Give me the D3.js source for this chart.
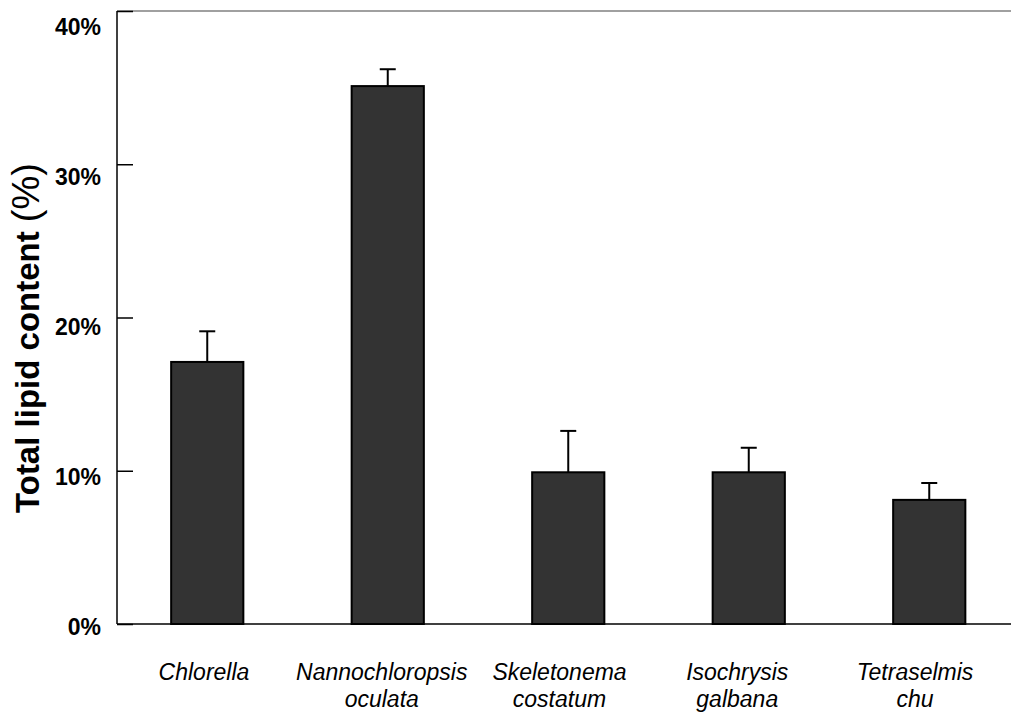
<!DOCTYPE html>
<html>
<head>
<meta charset="utf-8">
<script src="https://cdn.jsdelivr.net/npm/d3@7"></script>
<style>
  html, body { margin: 0; padding: 0; background: #fff; }
  svg { display: block; }
  text { font-family: Arial, "Liberation Sans", sans-serif; }
</style>
</head>
<body>
<svg id="chart" width="1011" height="713"></svg>
<script>
// Total lipid content of five microalgae species (mean and standard deviation, %)
const speciesLine1 = ["Chlorella", "Nannochloropsis", "Skeletonema", "Isochrysis", "Tetraselmis"];
const speciesLine2 = ["", "oculata", "costatum", "galbana", "chu"];
const lipidMean = [17.1, 35.1, 9.9, 9.9, 8.1];
const lipidSd = [2.0, 1.1, 2.7, 1.6, 1.1];
const yTicks = [0, 10, 20, 30, 40];

const svg = d3.select("#chart");
const W = 1011;

const categories = speciesLine1.map((d, i) => i);

const y = d3.scaleLinear().domain([0, 40]).range([624, 11]);
const x = d3.scaleBand().domain(categories).range([117, 1019.5])
  .paddingInner(0.6).paddingOuter(0.3);
// category label placement along the bottom
const xLabel = d3.scalePoint().domain(categories).range([204, 915]);
// tick label placement along the left
const yLabel = d3.scaleLinear().domain([0, 40]).range([627, 27]);

// top frame line
svg.append("line")
  .attr("x1", 117).attr("x2", W)
  .attr("y1", y(40)).attr("y2", y(40))
  .attr("stroke", "#808080").attr("stroke-width", 1.5);

// bars
svg.append("g").selectAll("rect")
  .data(lipidMean)
  .join("rect")
  .attr("x", (d, i) => x(i))
  .attr("y", d => y(d))
  .attr("width", x.bandwidth())
  .attr("height", d => y(0) - y(d))
  .attr("fill", "#333333")
  .attr("stroke", "#000")
  .attr("stroke-width", 2);

// error bars (upper only)
const err = svg.append("g").attr("stroke", "#000").attr("stroke-width", 2);
lipidMean.forEach((m, i) => {
  const cx = x(i) + x.bandwidth() / 2;
  err.append("line")
    .attr("x1", cx).attr("x2", cx)
    .attr("y1", y(m)).attr("y2", y(m + lipidSd[i]));
  err.append("line")
    .attr("x1", cx - 8).attr("x2", cx + 8)
    .attr("y1", y(m + lipidSd[i])).attr("y2", y(m + lipidSd[i]));
});

// y axis line with inward ticks
const yAxis = svg.append("g")
  .attr("transform", "translate(117,0)")
  .call(d3.axisRight(y).tickValues(yTicks).tickSize(16).tickFormat(""));
yAxis.select(".domain").attr("stroke", "#000").attr("stroke-width", 1.5)
  .attr("d", `M0,${y(40)}V${y(0)}`);
yAxis.selectAll(".tick line").attr("stroke", "#000").attr("stroke-width", 1.5);

// y tick labels
svg.append("g").selectAll("text")
  .data(yTicks)
  .join("text")
  .attr("x", 101)
  .attr("y", d => yLabel(d))
  .attr("dy", "0.36em")
  .attr("text-anchor", "end")
  .attr("font-size", 23)
  .attr("font-weight", "bold")
  .attr("fill", "#000")
  .text(d => d + "%");

// x axis line
svg.append("line")
  .attr("x1", 117).attr("x2", W)
  .attr("y1", y(0)).attr("y2", y(0))
  .attr("stroke", "#000").attr("stroke-width", 1.5);

// category labels
const xl = svg.append("g").attr("font-size", 23).attr("font-style", "italic").attr("fill", "#000");
categories.forEach(i => {
  const t = xl.append("text")
    .attr("x", xLabel(i))
    .attr("y", 680)
    .attr("text-anchor", "middle");
  t.append("tspan").attr("x", xLabel(i)).text(speciesLine1[i]);
  if (speciesLine2[i]) {
    t.append("tspan").attr("x", xLabel(i)).attr("dy", 27).text(speciesLine2[i]);
  }
});

// y axis title
const title = svg.append("text")
  .attr("transform", "translate(39,338) rotate(-90)")
  .attr("text-anchor", "middle")
  .attr("fill", "#000");
title.append("tspan").attr("font-size", 33).attr("font-weight", "bold").text("Total lipid content ");
title.append("tspan").attr("font-size", 38).text("(%)");
</script>
</body>
</html>
